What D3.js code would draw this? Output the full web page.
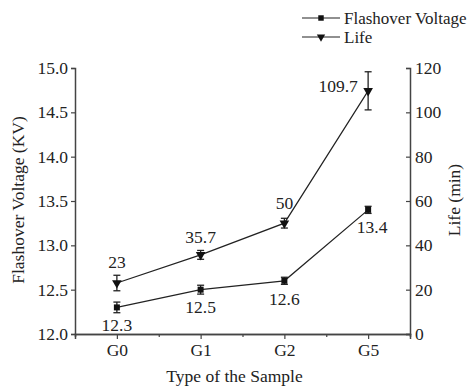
<!DOCTYPE html>
<html>
<head>
<meta charset="utf-8">
<script src="https://cdn.jsdelivr.net/npm/d3@7"></script>
<style>
  body { margin: 0; background: #fff; }
  svg text { font-family: "Liberation Serif", "Times New Roman", Times, "DejaVu Serif", serif !important; fill: #222; }
</style>
</head>
<body>
<script>
// data
var samples = ["G0", "G1", "G2", "G5"];
var voltage = [12.3, 12.5, 12.6, 13.4];
var voltageErr = [0.06, 0.05, 0.04, 0.04];
var life = [23, 35.7, 50, 109.7];
var lifeErr = [3.5, 2, 2.2, 8.6];
var voltageTicks = [12.0, 12.5, 13.0, 13.5, 14.0, 14.5, 15.0];
var lifeTicks = [0, 20, 40, 60, 80, 100, 120];

var margin = {top: 68, right: 66, bottom: 54, left: 75};
var width = 476 - margin.left - margin.right;
var height = 388 - margin.top - margin.bottom;
var fs = "17.5px";

var svg = d3.select("body").append("svg")
    .attr("width", 476)
    .attr("height", 388)
  .append("g")
    .attr("transform", "translate(" + margin.left + "," + margin.top + ")");

var x = d3.scaleLinear().domain([-0.5, samples.length - 0.5]).range([0, width]);
var yL = d3.scaleLinear().domain([12, 15]).range([height, 0]);
var yR = d3.scaleLinear().domain([0, 120]).range([height, 0]);

// axes
var xAxis = d3.axisBottom(x)
    .tickValues(d3.range(samples.length))
    .tickFormat(function(i) { return samples[i]; })
    .tickSize(5).tickPadding(5);

var xMinor = d3.axisBottom(x)
    .tickValues(d3.range(samples.length - 1).map(function(i) { return i + 0.5; }))
    .tickFormat("")
    .tickSize(3);

var yAxisL = d3.axisLeft(yL).tickValues(voltageTicks)
    .tickFormat(d3.format(".1f")).tickSize(4).tickPadding(3);

var yAxisR = d3.axisRight(yR).tickValues(lifeTicks).tickSize(-4).tickPadding(5);

function styleAxis(g) {
  g.attr("font-family", null);
  g.select(".domain").attr("stroke", "#444").attr("stroke-width", 1.5);
  g.selectAll(".tick line").attr("stroke", "#444").attr("stroke-width", 1.2);
  g.selectAll("text").style("font-size", fs).attr("fill", "#222");
}

svg.append("g").attr("transform", "translate(0," + height + ")").call(xMinor).call(styleAxis);
svg.append("g").attr("transform", "translate(0," + height + ")").call(xAxis).call(styleAxis);
svg.append("g").call(yAxisL).call(styleAxis);
svg.append("g").attr("transform", "translate(" + width + ",0)").call(yAxisR).call(styleAxis);

// axis titles
svg.append("text")
    .attr("x", width / 2 - 8)
    .attr("y", height + 48)
    .attr("text-anchor", "middle")
    .style("font-size", fs)
    .text("Type of the Sample");

svg.append("text")
    .attr("transform", "translate(-51," + (height / 2 - 1) + ") rotate(-90)")
    .attr("text-anchor", "middle")
    .style("font-size", fs)
    .text("Flashover Voltage (KV)");

svg.append("text")
    .attr("transform", "translate(" + (width + 50) + "," + (height / 2 - 1) + ") rotate(-90)")
    .attr("text-anchor", "middle")
    .style("font-size", fs)
    .text("Life (min)");

// series
var lineColor = "#222";
var series = [
  {vals: voltage, err: voltageErr, y: yL, marker: d3.symbolSquare, size: 36},
  {vals: life, err: lifeErr, y: yR, marker: d3.symbolTriangle, size: 40}
];

series.forEach(function(s) {
  var line = d3.line()
      .x(function(d, i) { return x(i); })
      .y(function(d) { return s.y(d); });

  svg.append("path")
      .datum(s.vals)
      .attr("fill", "none")
      .attr("stroke", lineColor)
      .attr("stroke-width", 1.2)
      .attr("d", line);

  var eb = svg.append("g").selectAll("g")
      .data(s.vals)
    .enter().append("g");

  eb.append("line")
      .attr("x1", function(d, i) { return x(i); })
      .attr("x2", function(d, i) { return x(i); })
      .attr("y1", function(d, i) { return s.y(d - s.err[i]); })
      .attr("y2", function(d, i) { return s.y(d + s.err[i]); })
      .attr("stroke", lineColor).attr("stroke-width", 1.3);

  [-1, 1].forEach(function(sign) {
    eb.append("line")
        .attr("x1", function(d, i) { return x(i) - 3.5; })
        .attr("x2", function(d, i) { return x(i) + 3.5; })
        .attr("y1", function(d, i) { return s.y(d + sign * s.err[i]); })
        .attr("y2", function(d, i) { return s.y(d + sign * s.err[i]); })
        .attr("stroke", lineColor).attr("stroke-width", 1.3);
  });

  svg.append("g").selectAll("path")
      .data(s.vals)
    .enter().append("path")
      .attr("d", d3.symbol().type(s.marker).size(s.size))
      .attr("transform", function(d, i) {
        return "translate(" + x(i) + "," + s.y(d) + ")" +
          (s.marker === d3.symbolTriangle ? " rotate(180)" : "");
      })
      .attr("fill", "#111");
});

// value labels
var vOffsets = [[0, 23.5], [0, 23.5], [0, 24], [4, 23]];
svg.append("g").selectAll("text")
    .data(voltage)
  .enter().append("text")
    .attr("x", function(d, i) { return x(i) + vOffsets[i][0]; })
    .attr("y", function(d, i) { return yL(d) + vOffsets[i][1]; })
    .attr("text-anchor", "middle")
    .style("font-size", fs)
    .text(function(d) { return d; });

var lOffsets = [[0, -15], [0, -12], [0, -14], [-30, 1]];
svg.append("g").selectAll("text")
    .data(life)
  .enter().append("text")
    .attr("x", function(d, i) { return x(i) + lOffsets[i][0]; })
    .attr("y", function(d, i) { return yR(d) + lOffsets[i][1]; })
    .attr("text-anchor", "middle")
    .style("font-size", fs)
    .text(function(d) { return d; });

// legend
var legendItems = [
  {name: "Flashover Voltage", marker: d3.symbolSquare, size: 30},
  {name: "Life", marker: d3.symbolTriangle, size: 30}
];
var legend = svg.append("g")
    .attr("transform", "translate(" + (302 - margin.left) + "," + (18 - margin.top) + ")");

legendItems.forEach(function(item, i) {
  var g = legend.append("g").attr("transform", "translate(0," + i * 19 + ")");
  g.append("line")
      .attr("x1", 0).attr("x2", 38)
      .attr("stroke", lineColor).attr("stroke-width", 1.2);
  g.append("path")
      .attr("d", d3.symbol().type(item.marker).size(item.size))
      .attr("transform", "translate(19,0)" + (item.marker === d3.symbolTriangle ? " rotate(180)" : ""))
      .attr("fill", "#111");
  g.append("text")
      .attr("x", 42).attr("y", 5.5)
      .style("font-size", "17px")
      .text(item.name);
});
</script>
</body>
</html>
